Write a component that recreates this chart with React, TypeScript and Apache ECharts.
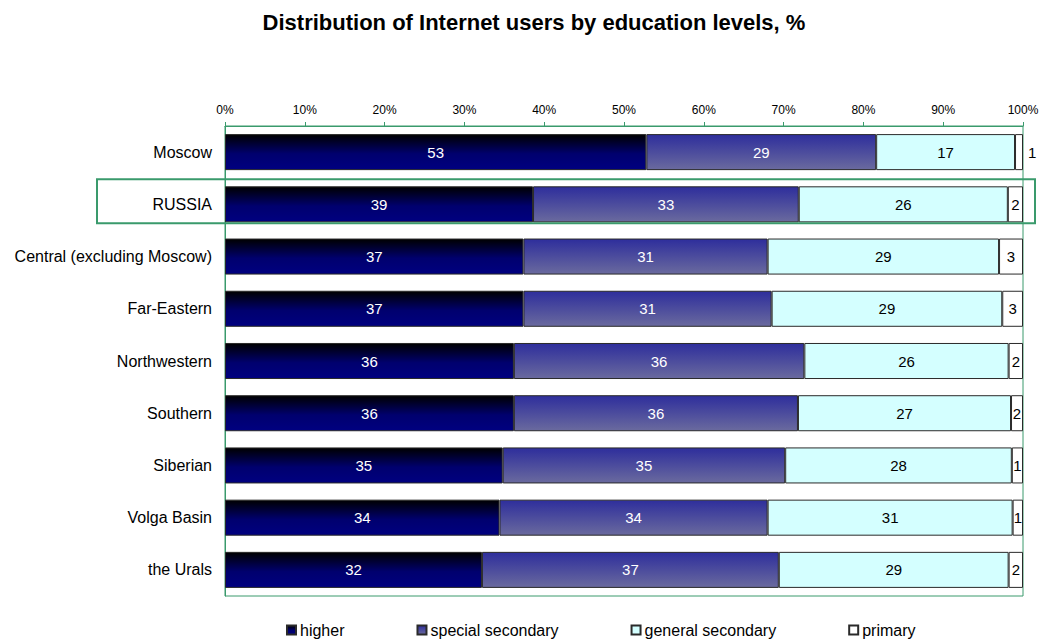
import React, { useEffect, useRef } from "react";
import * as echarts from "echarts";

const categories = [
  "Moscow",
  "RUSSIA",
  "Central (excluding Moscow)",
  "Far-Eastern",
  "Northwestern",
  "Southern",
  "Siberian",
  "Volga Basin",
  "the Urals",
];
const higher = [52.8, 38.6, 37.4, 37.4, 36.2, 36.2, 34.8, 34.4, 32.2];
const specialSecondary = [28.8, 33.3, 30.6, 31.1, 36.4, 35.6, 35.4, 33.6, 37.2];
const generalSecondary = [17.4, 26.2, 29.0, 28.9, 25.6, 26.7, 28.4, 30.7, 28.8];
const primary = [1.0, 1.9, 3.0, 2.6, 1.8, 1.5, 1.4, 1.3, 1.8];
const seriesNames = ["higher", "special secondary", "general secondary", "primary"];
const highlighted = "RUSSIA";

const FONT = "'Liberation Sans', Arial, sans-serif";
const GREEN = "#3a9a6c";

export default function App() {
  const ref = useRef<HTMLDivElement>(null);
  useEffect(() => {
    if (!ref.current) return;
    const chart = echarts.init(ref.current, null, { renderer: "svg" });
    const grad = (stops: [number, string][]) =>
      new echarts.graphic.LinearGradient(
        0,
        0,
        0,
        1,
        stops.map(([offset, color]) => ({ offset, color }))
      );
    const styles = [
      { color: grad([[0, "#000000"], [0.55, "#00006e"], [1, "#000080"]]), labelColor: "#ffffff" },
      { color: grad([[0, "#2e2e9c"], [1, "#6a6a9e"]]), labelColor: "#ffffff" },
      { color: "#d4ffff", labelColor: "#000000" },
      { color: "#ffffff", labelColor: "#000000" },
    ];
    const dataSets = [higher, specialSecondary, generalSecondary, primary];
    const series = dataSets.map((arr, si) => ({
      name: seriesNames[si],
      type: "bar",
      stack: "total",
      barCategoryGap: "31%",
      itemStyle: { color: styles[si].color, borderColor: "#2a2a2a", borderWidth: 1 },
      label: {
        show: true,
        position: "inside",
        color: styles[si].labelColor,
        fontSize: 15,
        fontFamily: FONT,
        formatter: (p: any) => String(Math.round(p.value)),
      },
      data: arr.map((v, i) =>
        si === 3 && v < 1.2
          ? { value: v, label: { position: "right", distance: 5 } }
          : v
      ),
    }));

    chart.setOption({
      animation: false,
      backgroundColor: "#ffffff",
      title: {
        text: "Distribution of Internet users by education levels, %",
        left: 529,
        textAlign: "center",
        top: 6,
        textStyle: { fontFamily: FONT, fontSize: 22, fontWeight: "bold", color: "#000" },
      },
      legend: {
        top: 617,
        left: 281,
        itemWidth: 9,
        itemHeight: 9,
        itemGap: 72,
        icon: "rect",
        textStyle: { fontFamily: FONT, fontSize: 16, color: "#000", padding: [0, 0, 0, -1] },
        data: seriesNames,
      },
      grid: {
        left: 225,
        right: 19,
        top: 126,
        bottom: 46,
        show: true,
        borderColor: GREEN,
        borderWidth: 1,
      },
      xAxis: {
        type: "value",
        position: "top",
        min: 0,
        max: 100,
        interval: 10,
        axisLine: { show: true, lineStyle: { color: GREEN } },
        axisTick: { show: true, length: 4, lineStyle: { color: GREEN } },
        splitLine: { show: false },
        axisLabel: {
          formatter: "{value}%",
          fontFamily: FONT,
          fontSize: 12,
          color: "#000",
          margin: 10,
        },
      },
      yAxis: {
        type: "category",
        inverse: true,
        data: categories,
        axisLine: { show: true, lineStyle: { color: GREEN } },
        axisTick: { show: false },
        axisLabel: { fontFamily: FONT, fontSize: 16, color: "#000", margin: 13 },
      },
      series,
    });

    const cy = chart.convertToPixel({ yAxisIndex: 0 }, highlighted) as number;
    chart.setOption({
      graphic: [
        {
          type: "rect",
          z: 100,
          shape: { x: 97, y: cy - 25, width: 938, height: 44 },
          style: { fill: "none", stroke: GREEN, lineWidth: 2 },
        },
      ],
    });

    return () => chart.dispose();
  }, []);
  return (
    <div
      ref={ref}
      style={{ position: "fixed", left: 0, top: 0, width: 1042, height: 642 }}
    />
  );
}
